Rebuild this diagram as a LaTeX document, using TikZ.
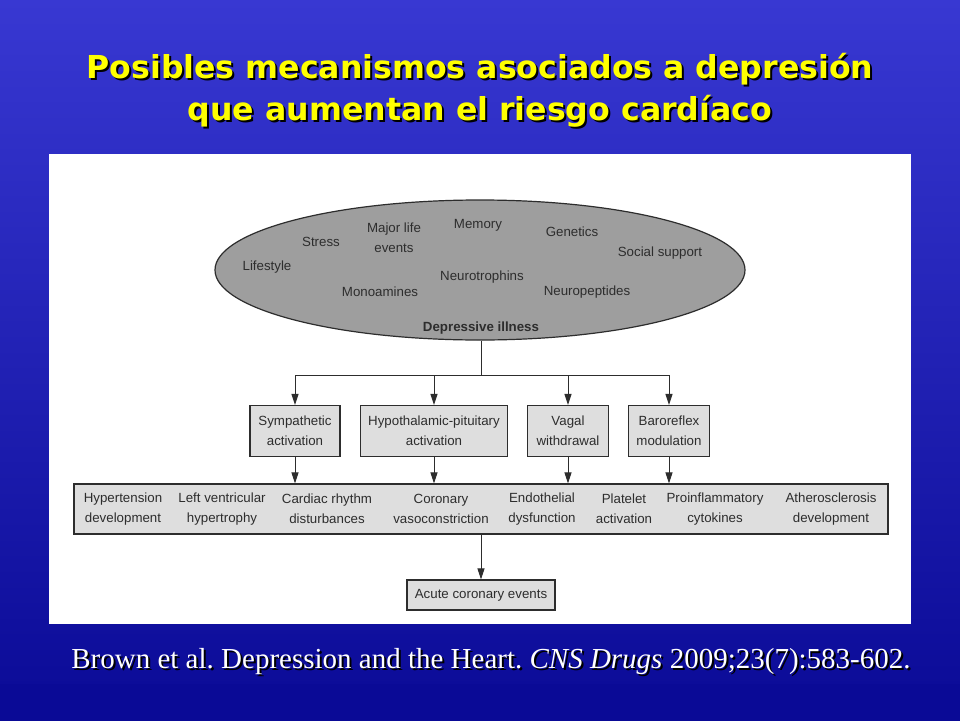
\documentclass[tikz,border=0pt]{standalone}
\usepackage{fontspec}
\setmainfont{Liberation Serif}
\newfontfamily\headfont{DejaVu Sans}
\newfontfamily\boxfont{Liberation Sans}
\usetikzlibrary{shapes.geometric,arrows.meta}
\definecolor{slideblue}{RGB}{56,56,210}
\definecolor{slidedark}{RGB}{10,10,150}
\definecolor{headyellow}{RGB}{255,255,0}
\definecolor{ovalgray}{RGB}{158,158,158}
\definecolor{boxgray}{RGB}{222,222,222}
\definecolor{inkgray}{RGB}{45,45,45}
\frenchspacing

\begin{document}
\begin{tikzpicture}[x=1pt,y=-1pt,
    word/.style={font=\boxfont\fontsize{13.3}{20}\selectfont, text=inkgray, align=center, inner sep=0},
    box/.style={draw=inkgray, line width=1.2pt, fill=boxgray, inner sep=0},
    link/.style={draw=inkgray, line width=0.9pt},
    arrow/.style={link, -{Triangle[length=11pt,width=7pt]}},
    head/.style={font=\headfont\bfseries\fontsize{31.6}{36}\selectfont, inner sep=0, anchor=base},
    cite/.style={font=\fontsize{29}{34}\selectfont, inner sep=0, anchor=base}]
    \useasboundingbox (0,0) rectangle (960,720);
    \shade[top color=slideblue, bottom color=slidedark] (0,0) rectangle (960,720);
    \fill[slidedark] (0,684) rectangle (960,720);
    % title
    \node[head, text=black] (headshadeA) at (482,80) {Posibles mecanismos asociados a depresión};
    \node[head, text=headyellow] (headA) at (480,78) {Posibles mecanismos asociados a depresión};
    \node[head, text=black] (headshadeB) at (482,122) {que aumentan el riesgo cardíaco};
    \node[head, text=headyellow] (headB) at (480,120) {que aumentan el riesgo cardíaco};
    % white panel
    \fill[white] (49,154) rectangle (911,624);
    % depressive illness
    \node[ellipse, draw=inkgray, line width=1.2pt, fill=ovalgray, minimum width=530, minimum height=140] (ill) at (480,270) {};
    \node[word] (lifestyle) at (267,267) {Lifestyle};
    \node[word] (stress) at (321,242) {Stress};
    \node[word] (major) at (394,238) {Major life\\events};
    \node[word] (memory) at (478,225) {Memory};
    \node[word] (genetics) at (572,232) {Genetics};
    \node[word] (social) at (660,253) {Social support};
    \node[word] (trophins) at (482,277) {Neurotrophins};
    \node[word] (amines) at (380,292) {Monoamines};
    \node[word] (peptides) at (587,292) {Neuropeptides};
    \node[word, font=\boxfont\bfseries\fontsize{13.3}{20}\selectfont] (depr) at (481,328) {Depressive illness};
    % pathways
    \node[box, minimum width=90, minimum height=51] (symp) at (295,431) {};
    \node[word] at (symp) {Sympathetic\\activation};
    \node[box, minimum width=147, minimum height=51] (hpa) at (434,431) {};
    \node[word] at (hpa) {Hypothalamic-pituitary\\activation};
    \node[box, minimum width=81, minimum height=51] (vagal) at (568,431) {};
    \node[word] at (vagal) {Vagal\\withdrawal};
    \node[box, minimum width=81, minimum height=51] (baro) at (669,431) {};
    \node[word] at (baro) {Baroreflex\\modulation};
    % effects
    \node[box, minimum width=814, minimum height=50] (effects) at (481,509) {};
    \node[word] (hyper) at (123,509) {Hypertension\\development};
    \node[word] (lvh) at (222,509) {Left ventricular\\hypertrophy};
    \node[word] (rhythm) at (327,509) {Cardiac rhythm\\disturbances};
    \node[word] (vaso) at (441,509) {Coronary\\vasoconstriction};
    \node[word] (endo) at (542,509) {Endothelial\\dysfunction};
    \node[word] (plat) at (624,509) {Platelet\\activation};
    \node[word] (cyto) at (715,509) {Proinflammatory\\cytokines};
    \node[word] (athero) at (831,509) {Atherosclerosis\\development};
    \node[box, minimum width=148, minimum height=30] (acute) at (481,595) {};
    \node[word] at (acute) {Acute coronary events};
    % connectors
    \coordinate (bus) at (481,375);
    \draw[link] (ill.south -| bus) -- (bus);
    \draw[link] (symp.north |- bus) -- (baro.north |- bus);
    \foreach \b in {symp,hpa,vagal,baro}{
        \draw[arrow] (\b.north |- bus) -- (\b.north);
        \draw[arrow] (\b.south) -- (\b.south |- effects.north);
    }
    \draw[arrow] (effects.south -| acute) -- (acute.north);
    % reference
    \node[cite, text=black] (citeshade) at (493,670) {Brown et al. Depression and the Heart. \textit{CNS Drugs} 2009;23(7):583-602.};
    \node[cite, text=white] (citation) at (491,668) {Brown et al. Depression and the Heart. \textit{CNS Drugs} 2009;23(7):583-602.};
\end{tikzpicture}
\end{document}
